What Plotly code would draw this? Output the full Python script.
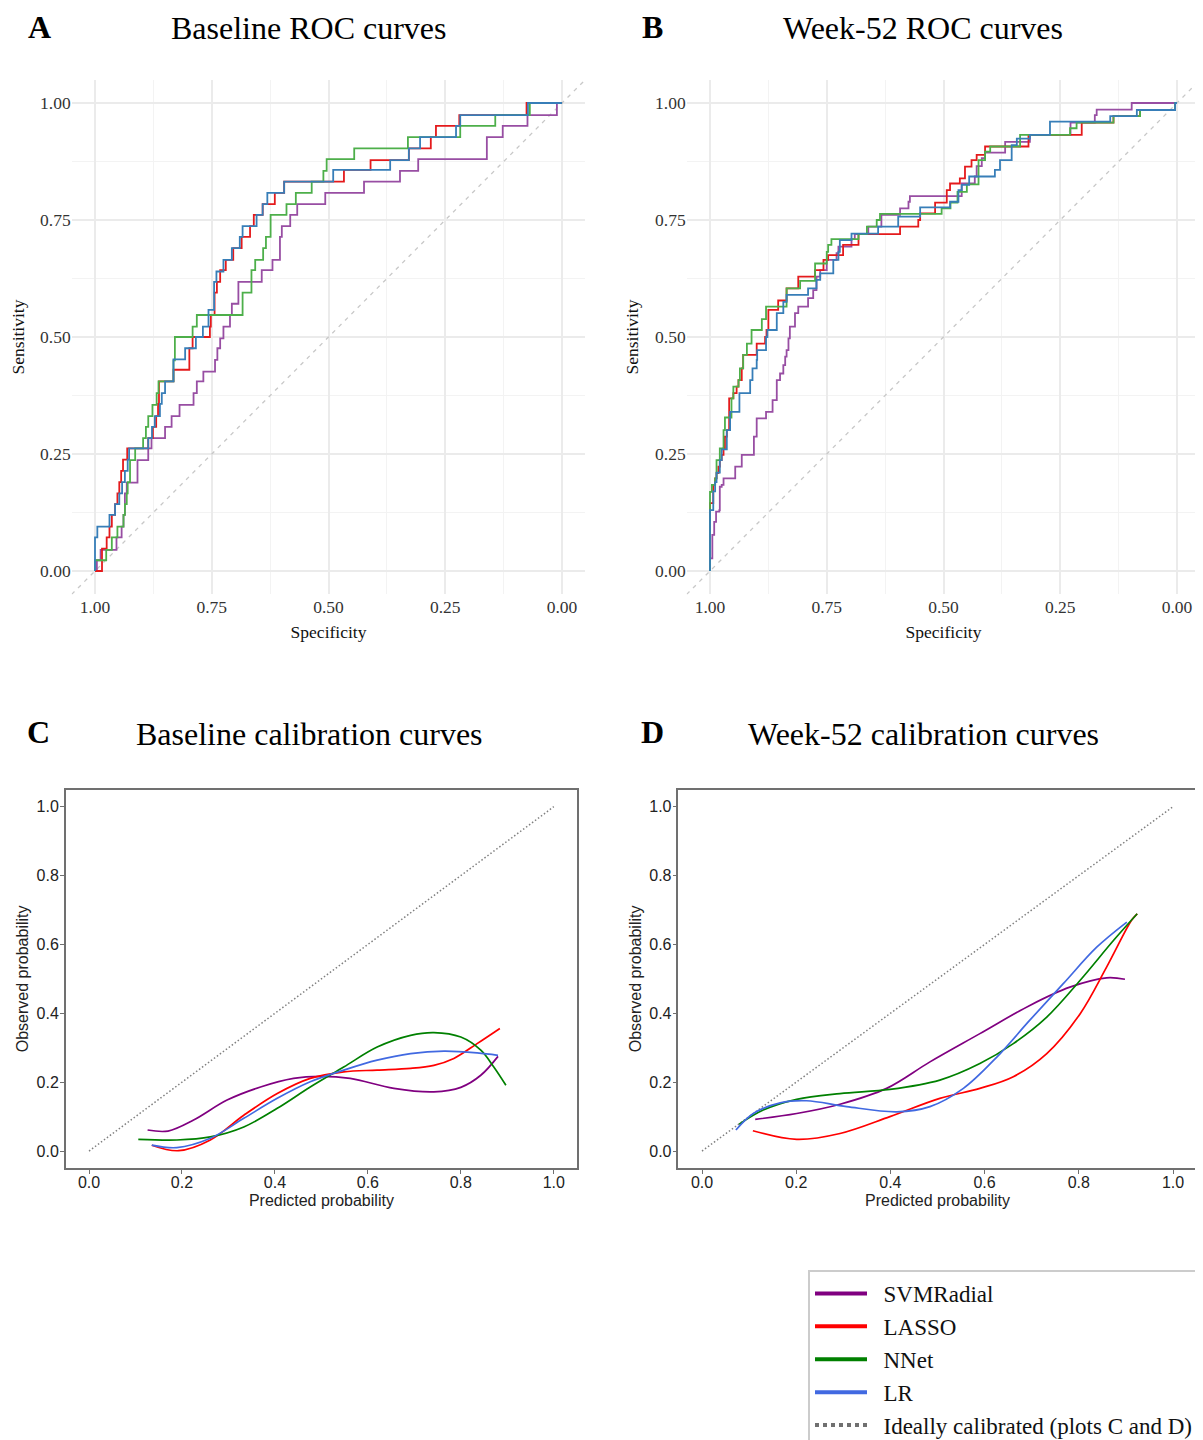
import plotly.graph_objects as go

# The page body has an 8 px default margin: figure is sized/positioned to compensate.
OFF = 8
W, H = 1203 - OFF, 1440 - OFF

MODELS = ["SVMRadial", "LASSO", "NNet", "LR"]
ROC_COLORS = ["#984EA3", "#E41A1C", "#4DAF4A", "#377EB8"]
CAL_COLORS = ["#800080", "#FF0000", "#008000", "#4169E1"]
IDEAL_LABEL = "Ideally calibrated (plots C and D)"

ROC_TICKVALS = [1.0, 0.75, 0.5, 0.25, 0.0]
ROC_TICKTEXT = ["1.00", "0.75", "0.50", "0.25", "0.00"]
ROC_MINOR = [0.125, 0.375, 0.625, 0.875]
CAL_TICKVALS = [0.0, 0.2, 0.4, 0.6, 0.8, 1.0]
CAL_TICKTEXT = ["0.0", "0.2", "0.4", "0.6", "0.8", "1.0"]

# ---------------- Baseline ROC (specificity at each rise, sensitivity after rise)
rocA_svm_spec = [1.0, 0.996, 0.988, 0.954, 0.943, 0.939, 0.936, 0.932, 0.909, 0.886,
                 0.879, 0.850, 0.836, 0.819, 0.789, 0.782, 0.768, 0.743, 0.738, 0.732,
                 0.725, 0.711, 0.707, 0.693, 0.643, 0.620, 0.604, 0.600, 0.582, 0.567,
                 0.507, 0.424, 0.347, 0.308, 0.161, 0.127, 0.074, 0.011, 0.0]
rocA_svm_sens = [0.0, 0.023, 0.045, 0.072, 0.095, 0.120, 0.166, 0.189, 0.237, 0.262,
                 0.284, 0.308, 0.331, 0.355, 0.380, 0.405, 0.426, 0.451, 0.476, 0.497,
                 0.522, 0.547, 0.571, 0.618, 0.643, 0.665, 0.714, 0.737, 0.761, 0.784,
                 0.808, 0.832, 0.855, 0.880, 0.927, 0.951, 0.974, 1.0, 1.0]

rocA_lasso_spec = [1.0, 0.985, 0.975, 0.969, 0.964, 0.957, 0.952, 0.948, 0.944, 0.940,
                   0.931, 0.886, 0.876, 0.869, 0.865, 0.863, 0.832, 0.798, 0.791, 0.754,
                   0.752, 0.744, 0.739, 0.732, 0.720, 0.704, 0.686, 0.668, 0.660, 0.641,
                   0.615, 0.595, 0.467, 0.410, 0.328, 0.281, 0.270, 0.220, 0.076, 0.0]
rocA_lasso_sens = [0.0, 0.048, 0.072, 0.095, 0.120, 0.143, 0.166, 0.190, 0.214, 0.238,
                   0.262, 0.284, 0.308, 0.331, 0.357, 0.405, 0.430, 0.476, 0.500, 0.522,
                   0.547, 0.595, 0.618, 0.643, 0.665, 0.690, 0.714, 0.737, 0.761, 0.784,
                   0.808, 0.832, 0.857, 0.878, 0.903, 0.927, 0.951, 0.974, 1.0, 1.0]

rocA_nnet_spec = [1.0, 1.0, 0.976, 0.964, 0.952, 0.939, 0.936, 0.932, 0.930, 0.925,
                  0.914, 0.897, 0.891, 0.886, 0.877, 0.868, 0.864, 0.832, 0.829, 0.791,
                  0.782, 0.684, 0.665, 0.657, 0.640, 0.634, 0.624, 0.590, 0.570, 0.536,
                  0.511, 0.504, 0.445, 0.330, 0.218, 0.143, 0.069, 0.0]
rocA_nnet_sens = [0.0, 0.023, 0.045, 0.072, 0.095, 0.120, 0.143, 0.166, 0.190, 0.237,
                  0.262, 0.284, 0.308, 0.331, 0.355, 0.380, 0.405, 0.450, 0.500, 0.522,
                  0.547, 0.595, 0.643, 0.665, 0.690, 0.714, 0.761, 0.784, 0.808, 0.832,
                  0.855, 0.880, 0.903, 0.927, 0.951, 0.974, 1.0, 1.0]

rocA_lr_spec = [1.0, 1.0, 0.995, 0.969, 0.957, 0.948, 0.942, 0.936, 0.930, 0.927,
                0.886, 0.878, 0.872, 0.861, 0.857, 0.850, 0.832, 0.807, 0.784, 0.769,
                0.757, 0.745, 0.740, 0.725, 0.707, 0.690, 0.684, 0.654, 0.641, 0.631,
                0.595, 0.490, 0.368, 0.328, 0.304, 0.227, 0.218, 0.073, 0.0]
rocA_lr_sens = [0.0, 0.072, 0.095, 0.120, 0.143, 0.166, 0.190, 0.214, 0.238, 0.262,
                0.284, 0.308, 0.331, 0.357, 0.380, 0.405, 0.452, 0.476, 0.500, 0.522,
                0.558, 0.618, 0.640, 0.665, 0.690, 0.714, 0.737, 0.761, 0.784, 0.808,
                0.832, 0.857, 0.878, 0.903, 0.927, 0.951, 0.974, 1.0, 1.0]

# ---------------- Week-52 ROC
rocB_svm_spec = [1.0, 1.0, 0.995, 0.991, 0.987, 0.980, 0.979, 0.975, 0.971, 0.946,
                 0.932, 0.906, 0.900, 0.880, 0.866, 0.857, 0.850, 0.843, 0.839, 0.836,
                 0.832, 0.829, 0.818, 0.811, 0.790, 0.779, 0.772, 0.764, 0.750, 0.729,
                 0.725, 0.697, 0.690, 0.661, 0.633, 0.593, 0.575, 0.572, 0.461, 0.433,
                 0.429, 0.418, 0.411, 0.368, 0.315, 0.228, 0.176, 0.172, 0.097, 0.0]
rocB_svm_sens = [0.0, 0.027, 0.077, 0.105, 0.127, 0.130, 0.180, 0.184, 0.198, 0.223,
                 0.248, 0.287, 0.326, 0.340, 0.365, 0.408, 0.422, 0.440, 0.458, 0.472,
                 0.497, 0.522, 0.551, 0.565, 0.583, 0.600, 0.629, 0.643, 0.665, 0.679,
                 0.693, 0.709, 0.720, 0.736, 0.761, 0.775, 0.789, 0.801, 0.828, 0.843,
                 0.865, 0.882, 0.894, 0.917, 0.932, 0.958, 0.974, 0.986, 1.0, 1.0]

rocB_lasso_spec = [1.0, 1.0, 0.993, 0.989, 0.986, 0.982, 0.979, 0.975, 0.971, 0.968,
                   0.964, 0.959, 0.950, 0.943, 0.939, 0.932, 0.929, 0.900, 0.882, 0.879,
                   0.875, 0.854, 0.836, 0.811, 0.775, 0.757, 0.747, 0.715, 0.682, 0.593,
                   0.554, 0.550, 0.518, 0.493, 0.486, 0.465, 0.454, 0.440, 0.429, 0.411,
                   0.318, 0.204, 0.136, 0.079, 0.004, 0.0]
rocB_lasso_sens = [0.0, 0.145, 0.184, 0.198, 0.209, 0.223, 0.237, 0.248, 0.262, 0.287,
                   0.301, 0.369, 0.380, 0.394, 0.408, 0.433, 0.462, 0.486, 0.500, 0.515,
                   0.558, 0.578, 0.604, 0.629, 0.643, 0.665, 0.675, 0.697, 0.720, 0.736,
                   0.750, 0.764, 0.787, 0.814, 0.828, 0.839, 0.864, 0.878, 0.889, 0.907,
                   0.932, 0.958, 0.972, 0.985, 1.0, 1.0]

rocB_nnet_spec = [1.0, 1.0, 0.996, 0.989, 0.986, 0.979, 0.971, 0.968, 0.954, 0.950,
                  0.939, 0.936, 0.929, 0.921, 0.911, 0.889, 0.880, 0.836, 0.807, 0.775,
                  0.750, 0.747, 0.740, 0.682, 0.664, 0.643, 0.636, 0.504, 0.485, 0.470,
                  0.450, 0.425, 0.411, 0.400, 0.336, 0.229, 0.215, 0.136, 0.079, 0.004,
                  0.0]
rocB_nnet_sens = [0.0, 0.169, 0.184, 0.198, 0.237, 0.262, 0.301, 0.328, 0.369, 0.394,
                  0.408, 0.433, 0.462, 0.486, 0.515, 0.538, 0.565, 0.604, 0.620, 0.657,
                  0.682, 0.697, 0.709, 0.720, 0.736, 0.750, 0.763, 0.775, 0.787, 0.810,
                  0.826, 0.878, 0.896, 0.907, 0.932, 0.946, 0.958, 0.972, 0.985, 1.0,
                  1.0]

rocB_lr_spec = [1.0, 1.0, 0.993, 0.989, 0.986, 0.979, 0.975, 0.964, 0.957, 0.937,
                0.914, 0.909, 0.900, 0.899, 0.880, 0.877, 0.857, 0.843, 0.836, 0.790,
                0.772, 0.764, 0.736, 0.725, 0.722, 0.697, 0.640, 0.597, 0.550, 0.486,
                0.468, 0.461, 0.445, 0.390, 0.379, 0.354, 0.343, 0.315, 0.272, 0.143,
                0.086, 0.004, 0.0]
rocB_lr_sens = [0.0, 0.130, 0.170, 0.190, 0.210, 0.237, 0.260, 0.301, 0.340, 0.380,
                0.408, 0.433, 0.451, 0.472, 0.500, 0.515, 0.551, 0.575, 0.590, 0.604,
                0.622, 0.636, 0.665, 0.682, 0.707, 0.721, 0.736, 0.757, 0.777, 0.789,
                0.814, 0.825, 0.843, 0.857, 0.878, 0.910, 0.924, 0.932, 0.960, 0.972,
                0.985, 1.0, 1.0]

# ---------------- Baseline calibration
calC_svm_pred = [0.126, 0.17, 0.225, 0.297, 0.369, 0.44, 0.498, 0.562, 0.656, 0.742, 0.80, 0.843, 0.88]
calC_svm_obs = [0.061, 0.058, 0.09, 0.148, 0.186, 0.211, 0.217, 0.211, 0.182, 0.172, 0.185, 0.22, 0.275]
calC_lasso_pred = [0.135, 0.193, 0.261, 0.333, 0.405, 0.476, 0.548, 0.62, 0.692, 0.742, 0.785, 0.835, 0.884]
calC_lasso_obs = [0.017, 0.001, 0.032, 0.104, 0.167, 0.211, 0.23, 0.235, 0.24, 0.249, 0.269, 0.312, 0.356]
calC_nnet_pred = [0.106, 0.189, 0.261, 0.333, 0.405, 0.476, 0.548, 0.62, 0.692, 0.742, 0.8, 0.843, 0.871, 0.897]
calC_nnet_obs = [0.034, 0.032, 0.041, 0.07, 0.124, 0.186, 0.244, 0.302, 0.336, 0.344, 0.331, 0.293, 0.244, 0.191]
calC_lr_pred = [0.135, 0.189, 0.261, 0.333, 0.405, 0.476, 0.548, 0.62, 0.692, 0.764, 0.835, 0.88]
calC_lr_obs = [0.017, 0.01, 0.037, 0.095, 0.153, 0.201, 0.235, 0.264, 0.283, 0.29, 0.285, 0.278]

# ---------------- Week-52 calibration
calD_svm_pred = [0.113, 0.201, 0.293, 0.392, 0.484, 0.59, 0.696, 0.781, 0.859, 0.898]
calD_svm_obs = [0.092, 0.109, 0.136, 0.182, 0.259, 0.341, 0.423, 0.476, 0.503, 0.499]
calD_lasso_pred = [0.108, 0.201, 0.293, 0.399, 0.505, 0.59, 0.661, 0.732, 0.803, 0.859, 0.912, 0.924]
calD_lasso_obs = [0.059, 0.034, 0.051, 0.1, 0.153, 0.182, 0.216, 0.283, 0.399, 0.534, 0.67, 0.689]
calD_nnet_pred = [0.079, 0.13, 0.201, 0.293, 0.399, 0.505, 0.59, 0.661, 0.732, 0.803, 0.874, 0.924]
calD_nnet_obs = [0.078, 0.119, 0.15, 0.167, 0.179, 0.206, 0.254, 0.312, 0.389, 0.496, 0.612, 0.689]
calD_lr_pred = [0.072, 0.109, 0.166, 0.222, 0.307, 0.414, 0.484, 0.555, 0.626, 0.696, 0.767, 0.838, 0.902]
calD_lr_obs = [0.061, 0.109, 0.14, 0.146, 0.129, 0.114, 0.129, 0.182, 0.273, 0.38, 0.486, 0.592, 0.665]

IDEAL_X = [0.0, 1.0]
IDEAL_Y = [0.0, 1.0]


# ---------------- layout helpers: page pixel positions -> paper fractions
def px(x):
    return (x - OFF) / W


def py(y):
    return 1 - (y - OFF) / H


def xdom(left, right):
    return [px(left), px(right)]


def ydom(top, bottom):
    return [py(bottom), py(top)]


SERIF = "Liberation Serif, Times New Roman, serif"
SANS = "Liberation Sans, Arial, sans-serif"

fig = go.Figure()

roc_sets = [
    ("x", "y", [(rocA_svm_spec, rocA_svm_sens), (rocA_lasso_spec, rocA_lasso_sens),
                (rocA_nnet_spec, rocA_nnet_sens), (rocA_lr_spec, rocA_lr_sens)]),
    ("x2", "y2", [(rocB_svm_spec, rocB_svm_sens), (rocB_lasso_spec, rocB_lasso_sens),
                  (rocB_nnet_spec, rocB_nnet_sens), (rocB_lr_spec, rocB_lr_sens)]),
]
ROC_RANGE_X = [1.05, -0.05]
ROC_RANGE_Y = [-0.05, 1.05]
for xa, ya, curves in roc_sets:
    fig.add_trace(go.Scatter(x=ROC_RANGE_X, y=ROC_RANGE_Y, mode="lines",
                             line=dict(color="#C8C8C8", width=1.3, dash="4px,5px"),
                             xaxis=xa, yaxis=ya, showlegend=False, hoverinfo="skip"))
    for (sx, sy), col, name in zip(curves, ROC_COLORS, MODELS):
        fig.add_trace(go.Scatter(x=sx, y=sy, mode="lines", line_shape="hv",
                                 line=dict(color=col, width=1.8), name=name,
                                 xaxis=xa, yaxis=ya, showlegend=False))

cal_sets = [
    ("x3", "y3", [(calC_svm_pred, calC_svm_obs), (calC_lasso_pred, calC_lasso_obs),
                  (calC_nnet_pred, calC_nnet_obs), (calC_lr_pred, calC_lr_obs)]),
    ("x4", "y4", [(calD_svm_pred, calD_svm_obs), (calD_lasso_pred, calD_lasso_obs),
                  (calD_nnet_pred, calD_nnet_obs), (calD_lr_pred, calD_lr_obs)]),
]
for xa, ya, curves in cal_sets:
    fig.add_trace(go.Scatter(x=IDEAL_X, y=IDEAL_Y, mode="lines",
                             line=dict(color="#808080", width=1.5, dash="1.5px,2.2px"),
                             xaxis=xa, yaxis=ya, showlegend=False, hoverinfo="skip"))
    for (cx, cy), col, name in zip(curves, CAL_COLORS, MODELS):
        fig.add_trace(go.Scatter(x=cx, y=cy, mode="lines",
                                 line=dict(color=col, width=1.7, shape="spline", smoothing=1.0),
                                 name=name, xaxis=xa, yaxis=ya, showlegend=False))

# legend entries (thick line samples, as in the reference key)
NB = "\u00a0\u00a0"
for col, name in zip(CAL_COLORS, MODELS):
    fig.add_trace(go.Scatter(x=[None], y=[None], mode="lines", name=NB + name,
                             line=dict(color=col, width=4), xaxis="x3", yaxis="y3",
                             showlegend=True))
fig.add_trace(go.Scatter(x=[None], y=[None], mode="lines", name=NB + IDEAL_LABEL,
                         line=dict(color="#707070", width=4, dash="dot"),
                         xaxis="x3", yaxis="y3", showlegend=True))

roc_tick_font = dict(family=SERIF, size=17.5, color="#333333")
roc_title_font = dict(family=SERIF, size=17.5, color="#111111")


def roc_x(dom, anchor):
    return dict(domain=dom, range=ROC_RANGE_X, tickvals=ROC_TICKVALS, ticktext=ROC_TICKTEXT,
                showgrid=True, gridcolor="#EBEBEB", gridwidth=1.6, zeroline=False,
                showline=False, ticks="", tickfont=roc_tick_font, anchor=anchor,
                automargin=False, ticklabelstandoff=0,
                minor=dict(tickvals=ROC_MINOR, showgrid=True, gridcolor="#F3F3F3", gridwidth=1),
                title=dict(text="Specificity", font=roc_title_font, standoff=9))


def roc_y(dom, anchor):
    return dict(domain=dom, range=ROC_RANGE_Y, tickvals=ROC_TICKVALS, ticktext=ROC_TICKTEXT,
                showgrid=True, gridcolor="#EBEBEB", gridwidth=1.6, zeroline=False,
                showline=False, ticks="", tickfont=roc_tick_font, anchor=anchor,
                automargin=False,
                minor=dict(tickvals=ROC_MINOR, showgrid=True, gridcolor="#F3F3F3", gridwidth=1),
                title=dict(text="Sensitivity", font=roc_title_font, standoff=11))


cal_tick_font = dict(family=SANS, size=16, color="#222222")
cal_title_font = dict(family=SANS, size=16, color="#222222")


def cal_x(dom, anchor):
    return dict(domain=dom, range=[-0.05, 1.05], tickvals=CAL_TICKVALS, ticktext=CAL_TICKTEXT,
                showgrid=False, zeroline=False, showline=True, mirror=True,
                linecolor="#707070", linewidth=1.5, ticks="outside", ticklen=4,
                tickcolor="#707070", tickwidth=1.2, tickfont=cal_tick_font, anchor=anchor,
                automargin=False, ticklabelstandoff=-5,
                title=dict(text="Predicted probability", font=cal_title_font, standoff=5))


def cal_y(dom, anchor):
    return dict(domain=dom, range=[-0.05, 1.05], tickvals=CAL_TICKVALS, ticktext=CAL_TICKTEXT,
                showgrid=False, zeroline=False, showline=True, mirror=True,
                linecolor="#707070", linewidth=1.5, ticks="outside", ticklen=4,
                tickcolor="#707070", tickwidth=1.2, tickfont=cal_tick_font, anchor=anchor,
                automargin=False, ticklabelstandoff=-2,
                title=dict(text="Observed probability", font=cal_title_font, standoff=4))


roc_top, roc_bot = 79.6, 594.4
cal_top, cal_bot = 789.5, 1168.25

fig.update_layout(
    width=W, height=H,
    margin=dict(l=0, r=0, t=0, b=0, autoexpand=False),
    paper_bgcolor="white", plot_bgcolor="white",
    xaxis=roc_x(xdom(71.65, 585.4), "y"),
    yaxis=roc_y(ydom(roc_top, roc_bot), "x"),
    xaxis2=roc_x(xdom(686.65, 1200.35), "y2"),
    yaxis2=roc_y(ydom(roc_top, roc_bot), "x2"),
    xaxis3=cal_x(xdom(65.8, 577.0), "y3"),
    yaxis3=cal_y(ydom(cal_top, cal_bot), "x3"),
    xaxis4=cal_x(xdom(678.45, 1196.55), "y4"),
    yaxis4=cal_y(ydom(cal_top, cal_bot), "x4"),
    legend=dict(x=px(808), y=py(1270), xanchor="left", yanchor="top",
                font=dict(family=SERIF, size=23, color="#111111"),
                bordercolor="#CCCCCC", borderwidth=2, bgcolor="white",
                itemwidth=52, tracegroupgap=0),
    showlegend=True,
)

title_font = dict(family=SERIF, size=32, color="#000000")
panel_titles = [
    ("A", 40, 27, "Baseline ROC curves", 309, 28),
    ("B", 652, 27, "Week-52 ROC curves", 923, 28),
    ("C", 38, 732, "Baseline calibration curves", 309, 734),
    ("D", 652, 732, "Week-52 calibration curves", 923, 734),
]
for letter, lx, ly, text, tx, ty in panel_titles:
    fig.add_annotation(text="<b>" + letter + "</b>", x=px(lx), y=py(ly), xref="paper",
                       yref="paper", showarrow=False, font=title_font,
                       xanchor="center", yanchor="middle")
    fig.add_annotation(text=text, x=px(tx), y=py(ty), xref="paper", yref="paper",
                       showarrow=False, font=title_font, xanchor="center", yanchor="middle")

fig.write_html("out.html")
